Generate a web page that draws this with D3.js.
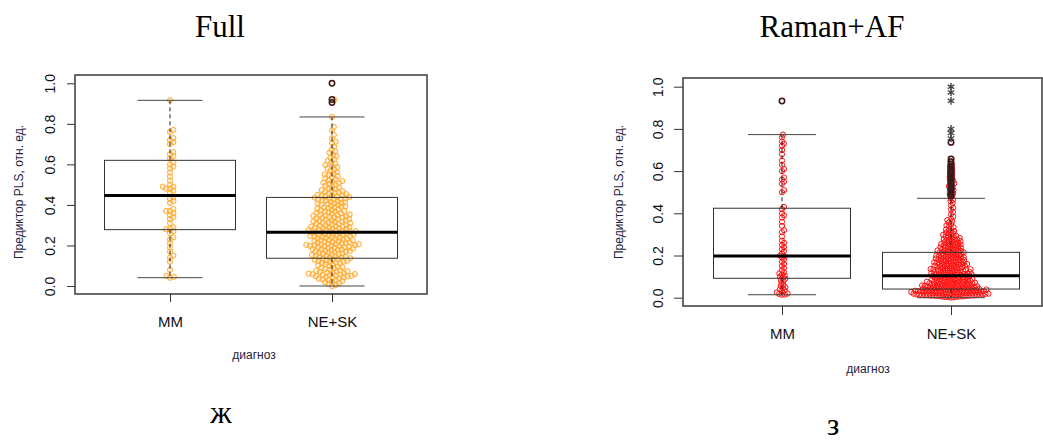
<!DOCTYPE html>
<html><head><meta charset="utf-8">
<script src="https://cdn.jsdelivr.net/npm/d3@7"></script>
<style>body{margin:0;background:#fff}svg{display:block}</style>
</head><body>
<script>
// ---------- data ----------
const categories = ["MM", "NE+SK"];
const yTicks = [0, 0.2, 0.4, 0.6, 0.8, 1.0];
const panelTitles = ["Full", "Raman+AF"];
const panelLetters = ["ж", "з"];
const yLabel = "Предиктор PLS, отн. ед.";
const xLabel = "диагноз";

// Panel "Full"
const fullMM = [0.916,0.77,0.76,0.73,0.72,0.71,0.70,0.66,0.65,0.64,0.63,0.61,0.60,0.59,0.58,0.56,0.54,0.52,0.50,0.49,0.49,0.48,0.48,0.47,0.46,0.44,0.43,0.42,0.41,0.38,0.37,0.37,0.36,0.35,0.34,0.33,0.31,0.29,0.28,0.28,0.27,0.26,0.24,0.23,0.21,0.19,0.17,0.15,0.14,0.12,0.08,0.05,0.045,0.041];
const fullNE = [0.000,0.005,0.010,0.015,0.018,0.022,0.025,0.028,0.030,0.033,0.036,0.038,
0.041,0.043,0.045,0.047,0.049,0.050,0.052,0.053,0.055,0.056,0.058,0.059,
0.061,0.063,0.065,0.067,0.069,0.071,0.073,0.075,0.078,0.081,0.084,0.087,0.090,0.093,0.096,0.099,
0.102,0.105,0.108,0.111,0.114,0.117,0.119,0.121,0.123,0.125,0.127,0.129,0.131,0.133,0.135,0.137,0.139,
0.141,0.143,0.145,0.147,0.149,0.151,0.153,0.155,0.157,0.159,0.161,0.163,0.165,0.167,0.169,0.171,0.173,0.175,0.177,0.179,0.180,
0.181,0.183,0.185,0.187,0.189,0.191,0.193,0.195,0.197,0.199,0.200,0.198,0.192,
0.201,0.203,0.205,0.207,0.209,0.211,0.213,0.215,0.217,0.219,0.212,0.206,
0.221,0.223,0.225,0.227,0.229,0.231,0.233,0.235,0.237,0.239,0.226,
0.241,0.243,0.245,0.247,0.249,0.251,0.253,0.255,0.257,0.259,0.246,0.252,
0.261,0.263,0.265,0.267,0.269,0.271,0.273,0.275,0.277,0.279,0.264,0.268,0.272,
0.281,0.283,0.285,0.287,0.289,0.291,0.293,0.295,0.297,0.299,0.284,0.292,
0.301,0.304,0.307,0.310,0.313,0.316,0.319,0.305,0.312,0.318,
0.321,0.324,0.327,0.330,0.333,0.336,0.339,0.325,0.331,0.337,
0.341,0.344,0.347,0.350,0.353,0.356,0.359,0.346,0.352,
0.361,0.364,0.367,0.370,0.373,0.376,0.379,0.368,
0.381,0.384,0.387,0.390,0.393,0.396,0.399,0.388,
0.401,0.404,0.407,0.410,0.413,0.416,0.419,0.408,
0.421,0.424,0.427,0.430,0.433,0.436,0.439,0.428,0.432,0.438,
0.441,0.444,0.447,0.450,0.453,0.456,0.459,0.446,
0.462,0.466,0.470,0.474,0.478,0.468,0.482,0.486,0.490,0.494,0.498,
0.503,0.508,0.513,0.518,0.510,0.522,0.527,0.532,0.537,0.542,0.548,0.555,0.551,
0.562,0.568,0.575,0.581,0.586,0.592,0.597,0.603,0.611,0.618,0.625,0.633,0.640,
0.648,0.657,0.664,0.673,0.688,0.705,0.712,0.728,0.745,0.768,0.785,0.834,
0.905,0.920,1.000];
// box statistics: [MM, NE+SK]
const fullLow = [0.041, 0.0];
const fullQ1 = [0.278, 0.137];
const fullMed = [0.447, 0.265];
const fullQ3 = [0.62, 0.437];
const fullHigh = [0.916, 0.834];
const fullOutMM = [];
const fullOutNE = [0.905, 0.92, 1.0];

// Panel "Raman+AF"
const ramMM = [0.932,0.773,0.76,0.74,0.73,0.72,0.70,0.68,0.65,0.63,0.61,0.60,0.57,0.56,0.55,0.54,0.51,0.50,
0.43,0.42,0.40,0.39,0.38,0.36,0.34,0.32,0.31,0.29,0.27,0.26,0.25,0.24,0.23,0.22,0.21,0.20,0.195,0.19,0.18,0.17,
0.16,0.15,0.14,0.13,0.12,0.115,0.11,0.105,0.10,0.095,0.09,0.085,0.08,0.07,0.06,0.055,0.05,0.045,0.04,0.035,0.03,
0.025,0.02,0.018,0.015,0.014];
const ramNE = [0.001,0.002,0.003,0.004,0.005,0.006,0.006,0.007,0.008,0.009,0.010,0.010,0.011,0.012,0.012,0.013,0.014,0.014,0.015,0.015,0.016,0.016,0.017,0.017,0.018,0.018,0.019,0.019,0.003,0.008,0.011,0.013,0.016,0.019,
0.020,0.021,0.021,0.022,0.022,0.023,0.023,0.024,0.024,0.025,0.025,0.026,0.026,0.027,0.027,0.028,0.028,0.029,0.029,0.030,0.030,0.031,0.031,0.032,0.032,0.033,0.033,0.034,0.034,0.035,0.035,0.036,0.036,0.037,0.037,0.038,0.038,0.039,0.039,0.040,
0.041,0.042,0.042,0.043,0.044,0.044,0.045,0.046,0.046,0.047,0.048,0.048,0.049,0.050,0.050,0.051,0.052,0.052,0.053,0.054,0.054,0.055,0.056,0.056,0.057,0.058,0.058,0.059,
0.060,0.061,0.062,0.062,0.063,0.064,0.065,0.066,0.066,0.067,0.068,0.069,0.070,0.070,0.071,0.072,0.073,0.074,0.074,0.075,0.076,0.077,0.078,0.079,
0.080,0.081,0.082,0.083,0.084,0.085,0.086,0.087,0.088,0.089,0.090,0.091,0.092,0.093,0.094,0.095,0.096,0.097,0.098,0.099,0.085,
0.100,0.101,0.102,0.103,0.104,0.105,0.106,0.107,0.108,0.109,0.110,0.111,0.112,0.113,0.114,0.115,0.116,0.117,0.118,0.119,
0.120,0.121,0.122,0.124,0.125,0.126,0.127,0.128,0.129,0.130,0.131,0.132,0.133,0.134,0.135,0.136,0.137,0.139,
0.140,0.141,0.142,0.144,0.145,0.146,0.147,0.149,0.150,0.151,0.152,0.153,0.155,0.156,0.157,0.158,0.159,
0.160,0.162,0.163,0.164,0.165,0.167,0.168,0.169,0.170,0.172,0.173,0.174,0.175,0.177,0.178,0.179,
0.180,0.182,0.183,0.184,0.186,0.187,0.188,0.190,0.191,0.192,0.194,0.195,0.196,0.198,0.199,
0.200,0.202,0.203,0.205,0.206,0.208,0.209,0.211,0.212,0.214,0.215,0.217,0.218,0.219,
0.221,0.222,0.224,0.226,0.227,0.229,0.231,0.232,0.234,0.236,0.237,0.239,
0.241,0.243,0.245,0.246,0.248,0.250,0.252,0.254,0.255,0.257,0.259,
0.261,0.263,0.265,0.267,0.269,0.272,0.274,0.276,0.278,
0.281,0.283,0.286,0.288,0.291,0.293,0.296,0.298,
0.302,0.305,0.309,0.312,0.316,0.319,0.323,0.328,0.334,0.339,0.343,0.349,0.356,0.362,0.368,0.375,0.384,0.395,0.405,0.417,0.426,0.437,0.448,0.457,0.464,0.471,
0.482,0.489,0.495,0.503,0.509,0.516,0.522,0.529,0.535,0.541,0.548,0.554,0.561,0.568,0.575,0.582,0.590,0.597,0.605,0.614,0.623,0.633,0.645,0.658,
0.736];
const ramStarsNE = [1.0, 0.973, 0.933, 0.80, 0.78, 0.755];
const ramLow = [0.014, 0.0];
const ramQ1 = [0.092, 0.041];
const ramMed = [0.198, 0.104];
const ramQ3 = [0.424, 0.215];
const ramHigh = [0.773, 0.471];
const ramOutMM = [0.932];
const ramOutNE = [0.482,0.489,0.495,0.503,0.509,0.516,0.522,0.529,0.535,0.541,0.548,0.554,0.561,0.568,0.575,0.582,0.590,0.597,0.605,0.614,0.623,0.633,0.645,0.658,0.736];

// ---------- drawing ----------
const W = 1043, H = 441;
const svg = d3.select("body").append("svg").attr("width", W).attr("height", H)
  .style("font-family", "'Liberation Sans', Arial, sans-serif");
svg.append("rect").attr("width", W).attr("height", H).attr("fill", "#fff");

const panels = [
  { title: panelTitles[0], letter: panelLetters[0],
    frame: {x0: 75, x1: 427, y0: 75, y1: 294}, y0px: 286, y1px: 83.3,
    catX: [170, 332], boxW: 131, capW: 65,
    vals: [fullMM, fullNE], low: fullLow, q1: fullQ1, med: fullMed, q3: fullQ3, high: fullHigh,
    outs: [fullOutMM, fullOutNE], stars: [[], []],
    ptStroke: "#ffa31a", ptFill: "rgba(255,175,60,0.18)", ptOpacity: 0.9, spacing: 3.9, r: 2.6,
    titleX: 220, titleY: 37, letterX: 221, letterY: 423,
    xLabX: 254, xLabY: 359, yLabX: 23, tickLen: 8 },
  { title: panelTitles[1], letter: panelLetters[1],
    frame: {x0: 683, x1: 1042, y0: 78, y1: 306}, y0px: 297.7, y1px: 86.7,
    catX: [782, 951], boxW: 137, capW: 68,
    vals: [ramMM, ramNE], low: ramLow, q1: ramQ1, med: ramMed, q3: ramQ3, high: ramHigh,
    outs: [ramOutMM, ramOutNE], stars: [[], ramStarsNE],
    ptStroke: "#ff1010", ptFill: "none", ptOpacity: 1, spacing: 2.9, r: 2.6,
    titleX: 832, titleY: 37, letterX: 833, letterY: 435,
    xLabX: 868, xLabY: 373, yLabX: 623, tickLen: 9 }
];

function swarm(vals, y, cx, d) {
  const pts = vals.map(v => ({ v, y: y(v) })).sort((a, b) => a.v - b.v);
  const placed = [];
  for (const p of pts) {
    const near = placed.filter(q => Math.abs(q.y - p.y) < d);
    const cands = [0];
    for (const q of near) {
      const dx = Math.sqrt(d * d - (q.y - p.y) ** 2);
      cands.push(q.x + dx, q.x - dx);
    }
    cands.sort((a, b) => Math.abs(a) - Math.abs(b));
    for (const c of cands) {
      if (near.every(q => (q.x - c) ** 2 + (q.y - p.y) ** 2 >= d * d - 1e-6)) { p.x = c; break; }
    }
    placed.push(p);
  }
  placed.forEach(p => p.x += cx);
  return placed;
}

panels.forEach(P => {
  const g = svg.append("g");
  const y = d3.scaleLinear().domain([0, 1]).range([P.y0px, P.y1px]);
  const x = d3.scalePoint().domain(categories).range(P.catX);

  // points (beeswarm)
  categories.forEach((c, i) => {
    const pts = swarm(P.vals[i], y, x(c), P.spacing);
    g.append("g").attr("opacity", P.ptOpacity).selectAll("circle").data(pts).join("circle")
      .attr("cx", d => d.x).attr("cy", d => d.y).attr("r", P.r)
      .attr("fill", P.ptFill).attr("stroke", P.ptStroke).attr("stroke-width", 1);
  });

  // boxplots
  categories.forEach((c, i) => {
    const cx = x(c);
    const bg = g.append("g");
    bg.append("line").attr("x1", cx).attr("x2", cx).attr("y1", y(P.q3[i])).attr("y2", y(P.high[i]))
      .attr("stroke", "#222").attr("stroke-dasharray", "4,3");
    bg.append("line").attr("x1", cx).attr("x2", cx).attr("y1", y(P.q1[i])).attr("y2", y(P.low[i]))
      .attr("stroke", "#222").attr("stroke-dasharray", "4,3");
    [P.high[i], P.low[i]].forEach(v => bg.append("line")
      .attr("x1", cx - P.capW / 2).attr("x2", cx + P.capW / 2).attr("y1", y(v)).attr("y2", y(v))
      .attr("stroke", "#444").attr("stroke-width", 1));
    bg.append("rect").attr("x", cx - P.boxW / 2).attr("width", P.boxW)
      .attr("y", y(P.q3[i])).attr("height", y(P.q1[i]) - y(P.q3[i]))
      .attr("fill", "none").attr("stroke", "#333").attr("stroke-width", 1);
    bg.append("line").attr("x1", cx - P.boxW / 2).attr("x2", cx + P.boxW / 2)
      .attr("y1", y(P.med[i])).attr("y2", y(P.med[i])).attr("stroke", "#000").attr("stroke-width", 3);
    bg.selectAll("circle.out").data(P.outs[i]).join("circle").attr("class", "out")
      .attr("cx", cx).attr("cy", d => y(d)).attr("r", 2.7)
      .attr("fill", "none").attr("stroke", "#3a1a1a").attr("stroke-width", 1.5);
    bg.selectAll("path.star").data(P.stars[i]).join("path").attr("class", "star")
      .attr("transform", d => `translate(${cx},${y(d)})`)
      .attr("d", d3.symbol(d3.symbolAsterisk, 40)())
      .attr("fill", "none").attr("stroke", "#444").attr("stroke-width", 1.4);
  });

  // frame
  g.append("rect").attr("x", P.frame.x0).attr("y", P.frame.y0)
    .attr("width", P.frame.x1 - P.frame.x0).attr("height", P.frame.y1 - P.frame.y0)
    .attr("fill", "none").attr("stroke", "#3a3a3a").attr("stroke-width", 1.5);

  // y axis
  const ya = g.append("g").attr("transform", `translate(${P.frame.x0},0)`)
    .call(d3.axisLeft(y).tickValues(yTicks).tickFormat(d3.format(".1f")).tickSize(P.tickLen).tickSizeOuter(0));
  ya.select(".domain").remove();
  ya.selectAll(".tick line").attr("stroke", "#333");
  ya.selectAll(".tick text").attr("x", null).attr("dy", null)
    .attr("transform", "translate(-20,0) rotate(-90)").attr("text-anchor", "middle")
    .attr("font-size", 14).attr("fill", "#111").style("font-family", "'Liberation Sans', Arial, sans-serif");

  // x axis
  const xa = g.append("g").attr("transform", `translate(0,${P.frame.y1})`)
    .call(d3.axisBottom(x).tickSize(P.tickLen).tickSizeOuter(0));
  xa.select(".domain").remove();
  xa.selectAll(".tick line").attr("stroke", "#333");
  xa.selectAll(".tick text").attr("y", 33).attr("dy", null)
    .attr("font-size", 15).attr("fill", "#111").style("font-family", "'Liberation Sans', Arial, sans-serif");

  // labels
  g.append("text").attr("x", P.xLabX).attr("y", P.xLabY).attr("text-anchor", "middle")
    .attr("font-size", 12).attr("fill", "#1e1e40").text(xLabel);
  g.append("text").attr("transform", `translate(${P.yLabX},192) rotate(-90)`).attr("text-anchor", "middle")
    .attr("font-size", 12).attr("fill", "#1e1e40").text(yLabel);
  g.append("text").attr("x", P.titleX).attr("y", P.titleY).attr("text-anchor", "middle")
    .attr("font-size", 31).style("font-family", "'Liberation Serif', 'Times New Roman', serif").attr("fill", "#000").text(P.title);
  g.append("text").attr("x", P.letterX).attr("y", P.letterY).attr("text-anchor", "middle")
    .attr("font-size", 31).style("font-family", "'Liberation Serif', 'Times New Roman', serif").attr("fill", "#000").text(P.letter);
});
</script>
</body></html>
